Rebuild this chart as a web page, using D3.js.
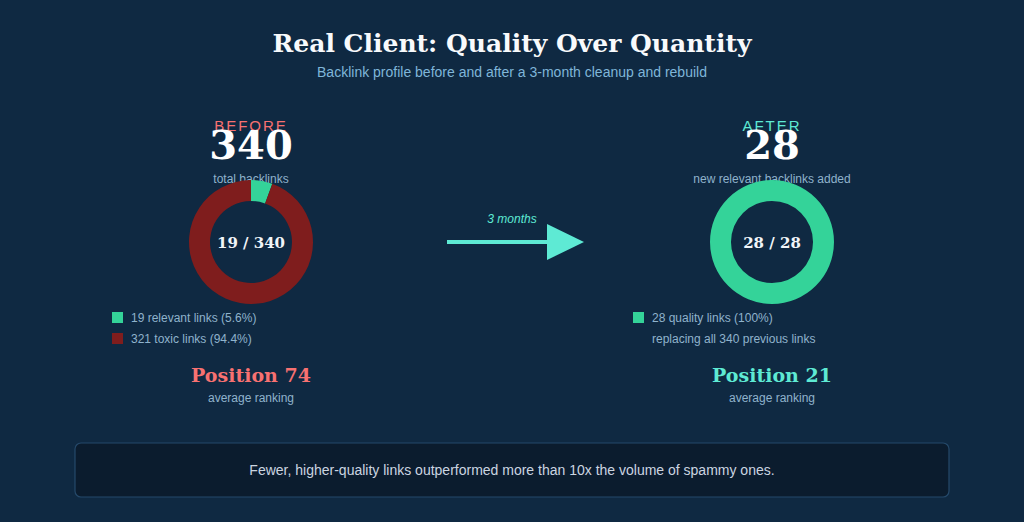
<!DOCTYPE html>
<html><head><meta charset="utf-8">
<script src="https://cdn.jsdelivr.net/npm/d3@7"></script>
<style>body{margin:0;background:#0f2942;}</style>
</head><body><svg id="c" width="1024" height="522"></svg>
<script>
const beforeParts = [
  {label: "19 relevant links (5.6%)", value: 19, color: "#34d399"},
  {label: "321 toxic links (94.4%)", value: 321, color: "#7f1d1d"}
];
const afterParts = [
  {label: "28 quality links (100%)", value: 28, color: "#34d399"}
];
const panels = [
  {cx: 251, title: "BEFORE", titleColor: "#f87171", big: "340", sub: "total backlinks",
   center: "19 / 340", parts: beforeParts, extra: null, pos: "Position 74", posColor: "#f87171", legendX: 112},
  {cx: 772, title: "AFTER", titleColor: "#5eead4", big: "28", sub: "new relevant backlinks added",
   center: "28 / 28", parts: afterParts, extra: "replacing all 340 previous links", pos: "Position 21", posColor: "#5eead4", legendX: 633}
];

const svg = d3.select("#c");
const serif = "DejaVu Serif, serif", sans = "Liberation Sans, Arial, sans-serif";
svg.append("rect").attr("width", 1024).attr("height", 522).attr("fill", "#0f2942");
svg.append("text").attr("x", 512).attr("y", 52).attr("text-anchor", "middle")
  .attr("font-family", serif).attr("font-weight", "bold").attr("font-size", 25).attr("fill", "#f8fafc")
  .text("Real Client: Quality Over Quantity");
svg.append("text").attr("x", 512).attr("y", 77).attr("text-anchor", "middle")
  .attr("font-family", sans).attr("font-size", 14).attr("fill", "#7fb6d9")
  .text("Backlink profile before and after a 3-month cleanup and rebuild");

const pie = d3.pie().value(d => d.value).sort(null);
const arc = d3.arc().innerRadius(41).outerRadius(62);

panels.forEach(p => {
  const g = svg.append("g");
  g.append("text").attr("x", p.cx).attr("y", 131).attr("text-anchor", "middle")
    .attr("font-family", sans).attr("font-size", 15).attr("letter-spacing", 2).attr("fill", p.titleColor).text(p.title);
  g.append("text").attr("x", p.cx).attr("y", 159).attr("text-anchor", "middle")
    .attr("font-family", serif).attr("font-weight", "bold").attr("font-size", 40).attr("fill", "#ffffff").text(p.big);
  g.append("text").attr("x", p.cx).attr("y", 183).attr("text-anchor", "middle")
    .attr("font-family", sans).attr("font-size", 12).attr("fill", "#8fb3cc").text(p.sub);
  const d = g.append("g").attr("transform", `translate(${p.cx},242)`);
  d.selectAll("path").data(pie(p.parts)).join("path").attr("d", arc).attr("fill", x => x.data.color);
  d.append("text").attr("y", 6).attr("text-anchor", "middle")
    .attr("font-family", serif).attr("font-weight", "bold").attr("font-size", 15).attr("fill", "#f1f5f9").text(p.center);
  p.parts.forEach((q, i) => {
    g.append("rect").attr("x", p.legendX).attr("y", 312 + i * 21).attr("width", 11).attr("height", 11).attr("fill", q.color);
    g.append("text").attr("x", p.legendX + 19).attr("y", 322 + i * 21)
      .attr("font-family", sans).attr("font-size", 12).attr("fill", "#8fb3cc").text(q.label);
  });
  if (p.extra) g.append("text").attr("x", p.legendX + 19).attr("y", 343)
      .attr("font-family", sans).attr("font-size", 12).attr("fill", "#8fb3cc").text(p.extra);
  g.append("text").attr("x", p.cx).attr("y", 382).attr("text-anchor", "middle")
    .attr("font-family", serif).attr("font-weight", "bold").attr("font-size", 19).attr("fill", p.posColor).text(p.pos);
  g.append("text").attr("x", p.cx).attr("y", 402).attr("text-anchor", "middle")
    .attr("font-family", sans).attr("font-size", 12).attr("fill", "#8fb3cc").text("average ranking");
});

// arrow
svg.append("line").attr("x1", 447).attr("x2", 550).attr("y1", 242).attr("y2", 242)
  .attr("stroke", "#5eead4").attr("stroke-width", 4);
svg.append("path").attr("d", d3.line()([[547, 224], [584, 242], [547, 260]])).attr("fill", "#5eead4");
svg.append("text").attr("x", 512).attr("y", 223).attr("text-anchor", "middle")
  .attr("font-family", sans).attr("font-style", "italic").attr("font-size", 12).attr("fill", "#5eead4").text("3 months");

// footer box
svg.append("rect").attr("x", 75).attr("y", 443).attr("width", 874).attr("height", 54).attr("rx", 6)
  .attr("fill", "#0b1c2e").attr("stroke", "#25496a").attr("stroke-width", 1.2);
svg.append("text").attr("x", 512).attr("y", 475).attr("text-anchor", "middle")
  .attr("font-family", sans).attr("font-size", 14).attr("fill", "#cbd5e1")
  .text("Fewer, higher-quality links outperformed more than 10x the volume of spammy ones.");
</script></body></html>
